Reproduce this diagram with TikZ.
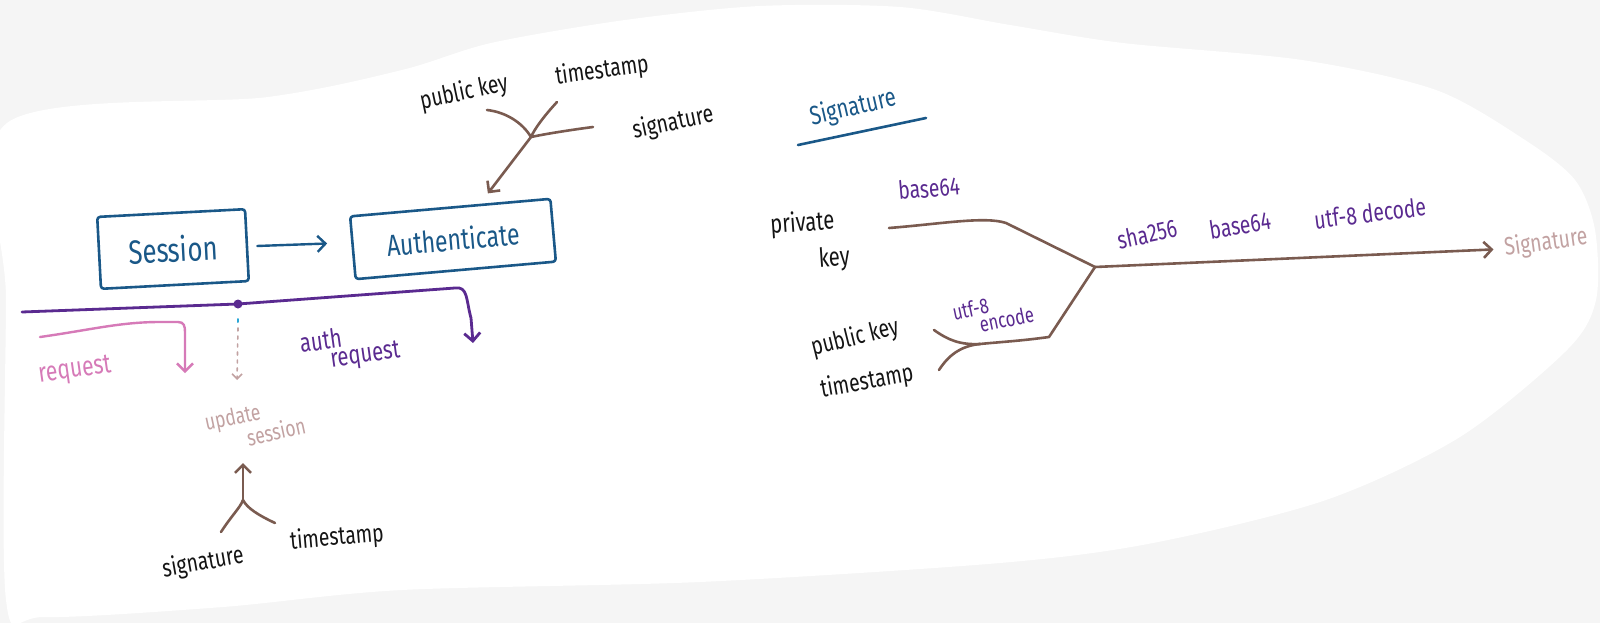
\documentclass[tikz,border=0pt]{standalone}
\usepackage{fontspec}
\setmainfont{Fira Sans}
\usetikzlibrary{arrows.meta}
\definecolor{bgc}{HTML}{F5F5F5}
\definecolor{ink}{HTML}{141414}
\definecolor{brn}{HTML}{7A5B50}
\definecolor{blu}{HTML}{1A5888}
\definecolor{vio}{HTML}{5A2A90}
\definecolor{pnk}{HTML}{D67AB8}
\definecolor{upc}{HTML}{C2A2A2}
\definecolor{cyn}{HTML}{2AA6D6}
\newcommand{\hw}[1]{\scalebox{0.92}[1.2]{#1}}
\begin{document}
\begin{tikzpicture}[x=1pt,y=-1pt,line cap=round,line join=round,
  lbl/.style={text=ink,font=\fontsize{21}{30}\selectfont,inner sep=1pt},
  plbl/.style={text=vio,font=\fontsize{21}{22}\selectfont,inner sep=1pt},
  box/.style={draw=blu,line width=2.6pt,rounded corners=3pt,text=blu,font=\fontsize{28}{30}\selectfont},
  brline/.style={draw=brn,line width=2.6pt},
  tip/.style={-{Straight Barb[length=8pt,width=16pt]}}]
\useasboundingbox (0,0) rectangle (1600,623);
\fill[bgc] (0,0) rectangle (1600,623);
\fill[white] plot[smooth cycle,tension=0.5] coordinates {(7,123) (268,97) (402,70) (491,43) (625,20) (760,6) (900,7) (1010,25) (1123,43) (1302,60) (1436,90) (1525,140) (1575,180) (1595,230) (1596,300) (1567,350) (1460,437) (1326,500) (1153,543) (1000,563) (700,582) (402,590) (223,607) (45,617) (6,600) (6,300)};

% left part
\node[box,minimum width=148pt,minimum height=72pt,rotate=3] (session) at (173,249) {\hw{Session}};
\node[box,minimum width=201pt,minimum height=63pt,rotate=5,font=\fontsize{25}{28}\selectfont] (auth) at (453,239) {\hw{Authenticate}};
\draw[blu,line width=2.4pt,tip,shorten <=9pt,shorten >=24pt] (session) -- (auth);

% top tree
\node[lbl,rotate=12] (tpk) at (464,93) {\hw{public key}};
\node[lbl,rotate=8] (tts) at (602,71) {\hw{timestamp}};
\node[lbl,rotate=12] (tsig) at (673,123) {\hw{signature}};
\coordinate (tj) at (531,137);
\coordinate (tb1) at (487,110);
\coordinate (tb2) at (557,102);
\coordinate (tb3) at (593,127);
\draw[brline] (tb1) .. controls (505,112) and (522,122) .. (tj);
\draw[brline] (tb2) .. controls (545,115) and (535,128) .. (tj);
\draw[brline] (tb3) .. controls (570,130) and (545,134) .. (tj);
\draw[brline,tip,shorten >=13pt] (tj) -- (auth);

% purple bus
\coordinate (pl) at (22,312);
\coordinate (dot) at (238,304);
\coordinate (pr) at (473,343);
\draw[vio,line width=2.8pt,tip] (pl) -- (dot) -- (455,288) .. controls (468,286) and (466,300) .. (471,318) -- (pr);
\fill[vio] (dot) circle (4.5pt);
\node[plbl,align=left,rotate=8,font=\fontsize{22}{17}\selectfont] (authreq) at (350,348) {\hw{auth}\\\hspace*{28pt}\hw{request}};

% request
\coordinate (rq1) at (40,337);
\coordinate (rq2) at (185,373);
\draw[pnk,line width=2.4pt,tip] (rq1) .. controls (90,330) and (120,322) .. (160,322) -- (178,322) .. controls (184,322) and (185,326) .. (185,332) -- (rq2);
\node[text=pnk,font=\fontsize{23}{24}\selectfont,rotate=8,inner sep=1pt] (request) at (75,371) {\hw{request}};

% update session
\node[text=upc,font=\fontsize{19}{17}\selectfont,align=left,rotate=12,inner sep=1pt] (update) at (255,424) {\hw{update}\\\hspace*{38pt}\hw{session}};
\coordinate (ut) at (237,380);
\draw[cyn,line width=2pt] (238,319) -- (238,322);
\draw[upc,line width=1.6pt,dash pattern=on 3pt off 5pt,-{Straight Barb[length=5pt,width=10pt]}] (238,328) -- (ut);

% bottom tree
\coordinate (bj) at (243,500);
\coordinate (bl) at (221,532);
\coordinate (br) at (275,523);
\coordinate (bt) at (243,463);
\draw[brline] (bl) .. controls (232,515) and (240,508) .. (bj);
\draw[brline] (br) .. controls (258,515) and (247,508) .. (bj);
\draw[brline,tip] (bj) -- (bt);
\node[lbl,rotate=10] (bsig) at (203,563) {\hw{signature}};
\node[lbl,rotate=5] (bts) at (337,538) {\hw{timestamp}};

% Signature heading
\node[text=blu,font=\fontsize{22}{24}\selectfont,rotate=13,inner sep=1pt] (sighead) at (853,108) {\hw{Signature}};
\coordinate (ul1) at (798,145);
\coordinate (ul2) at (926,118);
\draw[blu,line width=2.6pt] (ul1) -- (ul2);

% right tree
\node[lbl,align=left,font=\fontsize{22}{37}\selectfont,rotate=4] (priv) at (810,242) {\hw{private}\\\hspace*{46pt}\hw{key}};
\node[plbl,rotate=5] (b64a) at (929,188) {\hw{base64}};
\node[plbl,rotate=12] (sha) at (1147,234) {\hw{sha256}};
\node[plbl,rotate=9] (b64b) at (1240,225) {\hw{base64}};
\node[plbl,rotate=7] (dec) at (1370,213) {\hw{utf-8 decode}};
\node[text=upc,font=\fontsize{21}{24}\selectfont,rotate=8,inner sep=1pt] (sigout) at (1546,243) {\hw{Signature}};
\node[plbl,align=left,rotate=12,font=\fontsize{18}{15}\selectfont] (enc) at (993,313) {\hw{utf-8}\\\hspace*{24pt}\hw{encode}};
\node[lbl,rotate=14] (rpk) at (855,338) {\hw{public key}};
\node[lbl,rotate=10] (rts) at (867,382) {\hw{timestamp}};

\coordinate (pk1) at (889,228);
\coordinate (rj) at (1095,267);
\coordinate (lj) at (980,344);
\coordinate (pkb) at (934,330);
\coordinate (tsb) at (939,370);
\draw[brline] (pk1) .. controls (940,224) and (985,216) .. (1006,223) -- (rj);
\draw[brline,tip,shorten >=10pt] (rj) -- (sigout.west);
\draw[brline] (rj) -- (1049,337) .. controls (1020,341) and (1000,342) .. (lj);
\draw[brline] (pkb) .. controls (948,340) and (960,345) .. (lj);
\draw[brline] (tsb) .. controls (948,356) and (960,346) .. (lj);
\end{tikzpicture}
\end{document}
